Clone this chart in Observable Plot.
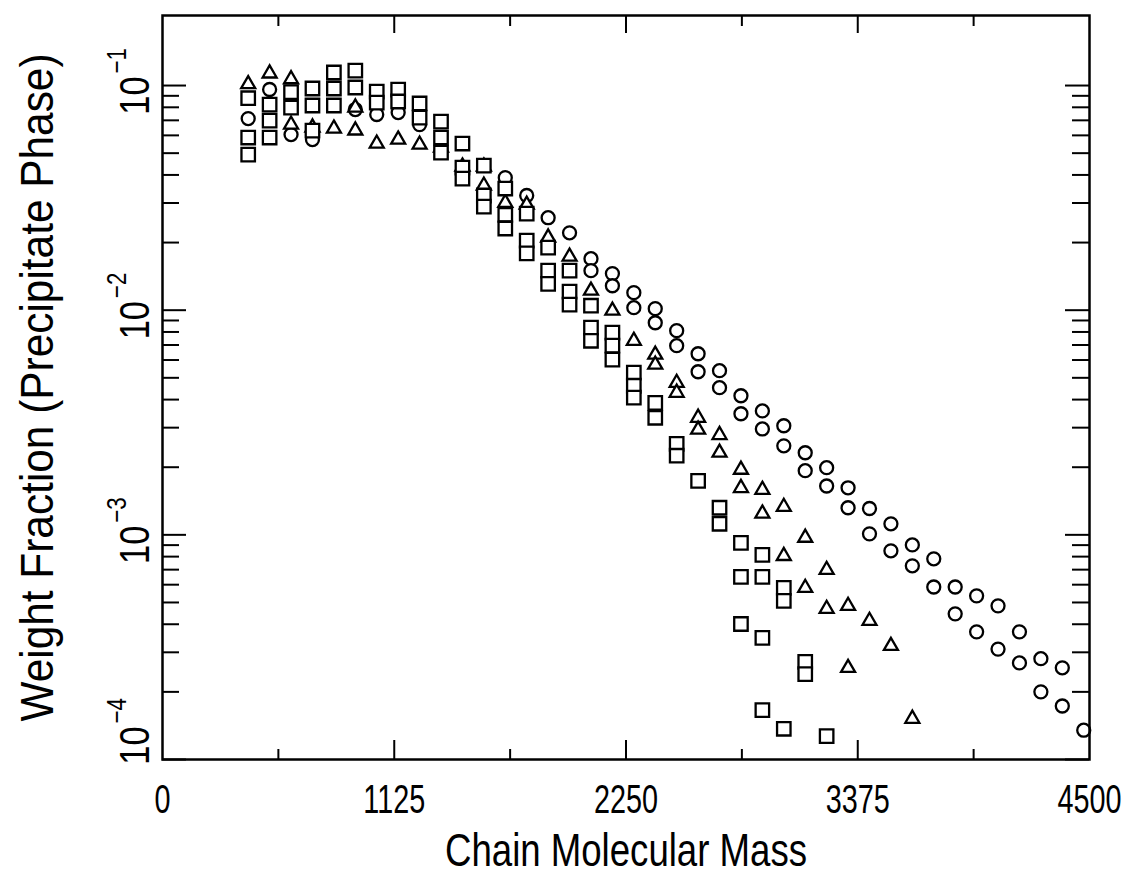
<!DOCTYPE html>
<html>
<head>
<meta charset="utf-8">
<script src="https://cdn.jsdelivr.net/npm/d3@7"></script>
<script src="https://cdn.jsdelivr.net/npm/@observablehq/plot@0.6"></script>
<style>
  html, body { margin: 0; padding: 0; background: #fff; }
  #chart { width: 1135px; height: 882px; }
</style>
</head>
<body>
<div id="chart"></div>
<script>
// ---- data ----
const circleMass = [416, 520, 624, 728, 936, 1040, 1144, 1248, 1664, 1768, 1872, 1976,
  2080, 2080, 2184, 2184, 2288, 2288, 2392, 2392, 2496, 2496, 2600, 2600, 2704, 2704,
  2808, 2808, 2912, 2912, 3016, 3016, 3120, 3120, 3224, 3224, 3328, 3328, 3432, 3432,
  3536, 3536, 3640, 3640, 3744, 3744, 3848, 3848, 3952, 3952, 4056, 4056, 4160, 4160,
  4264, 4264, 4368, 4368, 4472];
const circleFrac = [0.0713, 0.0960, 0.0605, 0.0575, 0.0782, 0.0743, 0.0758, 0.0670, 0.0389, 0.0324, 0.0258, 0.0221,
  0.01695, 0.0150, 0.01455, 0.01285, 0.01197, 0.01026, 0.01016, 0.00879, 0.00811, 0.00695, 0.00640, 0.00532, 0.00538, 0.00452,
  0.00416, 0.00346, 0.00356, 0.00296, 0.00306, 0.00249, 0.00232, 0.00193, 0.00199, 0.00165, 0.00162, 0.00132, 0.00131, 0.00101,
  0.00112, 0.000849, 0.000902, 0.000728, 0.000782, 0.000586, 0.000586, 0.000445, 0.000535, 0.000370, 0.000483, 0.000310, 0.000370, 0.000269,
  0.000281, 0.000200, 0.000256, 0.000173, 0.000135];

const triangleMass = [416, 520, 624, 624, 728, 832, 936, 936, 1040, 1144, 1248, 1352, 1456, 1560, 1560,
  1664, 1768, 1872, 1976, 2080, 2184, 2288, 2392, 2392, 2496, 2496, 2600, 2600, 2704, 2704,
  2808, 2808, 2912, 2912, 3016, 3016, 3120, 3120, 3224, 3224, 3328, 3328, 3432, 3536, 3640];
const triangleFrac = [0.1035, 0.1155, 0.1089, 0.0684, 0.0664, 0.0657, 0.0815, 0.0644, 0.0563, 0.0587, 0.0557, 0.0541, 0.0445, 0.0445, 0.0366,
  0.0307, 0.0301, 0.0215, 0.01767, 0.01247, 0.01016, 0.00746, 0.00647, 0.00584, 0.00485, 0.00438, 0.00339, 0.00300, 0.00284, 0.00237,
  0.00199, 0.00165, 0.00162, 0.00127, 0.00136, 0.000822, 0.000991, 0.000593, 0.000713, 0.000478, 0.000493, 0.000261, 0.000423, 0.000327, 0.000155];

const squareMass = [416, 416, 416, 520, 520, 520, 624, 624, 728, 728, 728, 832, 832, 832, 936, 936,
  1040, 1040, 1144, 1144, 1248, 1248, 1352, 1352, 1352, 1456, 1456, 1456, 1560, 1560, 1560,
  1664, 1664, 1664, 1768, 1768, 1768, 1872, 1872, 1872, 1976, 1976, 1976, 2080, 2080, 2080,
  2184, 2184, 2184, 2288, 2288, 2288, 2392, 2392, 2496, 2496, 2600, 2704, 2704,
  2808, 2808, 2808, 2912, 2912, 2912, 2912, 3016, 3016, 3016, 3120, 3120, 3224];
const squareFrac = [0.0878, 0.0587, 0.0493, 0.0823, 0.0698, 0.0587, 0.0934, 0.0798, 0.0970, 0.0815, 0.0630, 0.1143, 0.0970, 0.0815, 0.1166, 0.0980,
  0.0940, 0.0840, 0.0960, 0.0849, 0.0832, 0.0720, 0.0691, 0.0587, 0.0503, 0.0552, 0.0431, 0.0385, 0.0440, 0.0324, 0.0289,
  0.0348, 0.0266, 0.0231, 0.0269, 0.0204, 0.0179, 0.0190, 0.0150, 0.0131, 0.0150, 0.01209, 0.01058, 0.01047, 0.00836, 0.00731,
  0.00794, 0.00695, 0.00602, 0.00527, 0.00461, 0.00408, 0.00387, 0.00332, 0.00254, 0.00225, 0.00174, 0.00132, 0.00112,
  0.000921, 0.000650, 0.000401, 0.000815, 0.000650, 0.000348, 0.000166, 0.000581, 0.000508, 0.000137, 0.000272, 0.000240, 0.000127];

const xMajorTicks = [1125, 2250, 3375];
const xMinorTicks = [562.5, 1687.5, 2812.5, 3937.5];
const xTickLabels = [0, 1125, 2250, 3375, 4500];
const yMajorTicks = [1e-4, 1e-3, 1e-2, 1e-1];
const yMinorTicks = [2e-4, 3e-4, 4e-4, 5e-4, 6e-4, 7e-4, 8e-4, 9e-4,
  2e-3, 3e-3, 4e-3, 5e-3, 6e-3, 7e-3, 8e-3, 9e-3,
  2e-2, 3e-2, 4e-2, 5e-2, 6e-2, 7e-2, 8e-2, 9e-2];
const yTickLabels = [1e-4, 1e-3, 1e-2, 1e-1];
const yTickExponents = ["\u22124", "\u22123", "\u22122", "\u22121"];
const xTitle = "Chain Molecular Mass";
const yTitle = "Weight Fraction (Precipitate Phase)";

// ---- build tables ----
const circles = circleMass.map((m, i) => ({mass: m, frac: circleFrac[i]}));
const triangles = triangleMass.map((m, i) => ({mass: m, frac: triangleFrac[i]}));
const squares = squareMass.map((m, i) => ({mass: m, frac: squareFrac[i]}));
const yLabels = yTickLabels.map((v, i) => ({v, exp: yTickExponents[i]}));

const W = 1135, H = 882, mL = 162, mR = 46, mT = 15, mB = 123;
const innerW = W - mL - mR, innerH = H - mT - mB;
const font = "'Liberation Sans', Arial, sans-serif";

const chart = Plot.plot({
  width: W, height: H,
  marginLeft: mL, marginRight: mR, marginTop: mT, marginBottom: mB,
  style: {background: "white", color: "black"},
  x: {domain: [0, 4500], axis: null},
  y: {type: "log", domain: [1e-4, 0.205], axis: null},
  marks: [
    // ticks (inward)
    Plot.tickX(xMajorTicks, {x: d => d, insetTop: innerH - 19, stroke: "black", strokeWidth: 2}),
    Plot.tickX(xMinorTicks, {x: d => d, insetTop: innerH - 10, stroke: "black", strokeWidth: 2}),
    Plot.tickX(xMajorTicks, {x: d => d, insetBottom: innerH - 18, stroke: "black", strokeWidth: 2}),
    Plot.tickX(xMinorTicks, {x: d => d, insetBottom: innerH - 11, stroke: "black", strokeWidth: 2}),
    Plot.tickY(yMajorTicks, {y: d => d, insetRight: innerW - 24, stroke: "black", strokeWidth: 2}),
    Plot.tickY(yMinorTicks, {y: d => d, insetRight: innerW - 17, stroke: "black", strokeWidth: 2}),
    Plot.tickY(yMajorTicks, {y: d => d, insetLeft: innerW - 24, stroke: "black", strokeWidth: 2}),
    Plot.tickY(yMinorTicks, {y: d => d, insetLeft: innerW - 17, stroke: "black", strokeWidth: 2}),
    // data
    Plot.dot(circles, {x: "mass", y: "frac", symbol: "circle", r: 6.5, fill: "white", stroke: "black", strokeWidth: 2.3}),
    Plot.dot(triangles, {x: "mass", y: "frac", symbol: "triangle", r: 5.2, dy: 2, fill: "white", stroke: "black", strokeWidth: 2.3, strokeLinejoin: "miter"}),
    Plot.dot(squares, {x: "mass", y: "frac", symbol: "square", r: 7.6, fill: "white", stroke: "black", strokeWidth: 2.3}),
    Plot.frame({stroke: "black", strokeWidth: 2.5}),
    // x tick labels
    Plot.text(xTickLabels, {x: d => d, frameAnchor: "bottom", dy: 41, text: d => String(d), textAnchor: "middle", fontSize: 40, fontFamily: font, lineAnchor: "middle", fill: "black"}),
    // y tick labels (rotated)
    Plot.text(yLabels.filter(d => d.v > 1e-4), {y: "v", frameAnchor: "left", dx: -27, dy: 10, rotate: -90, text: () => "10", textAnchor: "middle", lineAnchor: "middle", fontSize: 43, fontFamily: font, fill: "black"}),
    Plot.text(yLabels.filter(d => d.v > 1e-4), {y: "v", frameAnchor: "left", dx: -45, dy: -12, rotate: -90, text: "exp", textAnchor: "start", lineAnchor: "middle", fontSize: 28, fontFamily: font, fill: "black"}),
    Plot.text(yLabels.filter(d => d.v <= 1e-4), {y: "v", frameAnchor: "left", dx: -27, dy: -14, rotate: -90, text: () => "10", textAnchor: "middle", lineAnchor: "middle", fontSize: 43, fontFamily: font, fill: "black"}),
    Plot.text(yLabels.filter(d => d.v <= 1e-4), {y: "v", frameAnchor: "left", dx: -45, dy: -36, rotate: -90, text: "exp", textAnchor: "start", lineAnchor: "middle", fontSize: 28, fontFamily: font, fill: "black"}),
    // titles
    Plot.text([xTitle], {frameAnchor: "bottom", dy: 92, text: d => d, textAnchor: "middle", fontSize: 46, fontFamily: font, lineAnchor: "middle", fill: "black"}),
    Plot.text([yTitle], {frameAnchor: "left", dx: -124, rotate: -90, text: d => d, textAnchor: "middle", fontSize: 46, fontFamily: font, lineAnchor: "middle", fill: "black"})
  ]
});
document.getElementById("chart").appendChild(chart);

// condensed lettering like the original: squeeze glyphs along the text direction
d3.select(chart).selectAll("text").each(function() {
  const t = this.textContent;
  const len = this.getComputedTextLength();
  let target;
  if (t === xTitle) target = 362;
  else if (t === yTitle) target = 668;
  else if (/^\d+$/.test(t) && t !== "10") target = len * 0.72;
  else target = len * 0.8;
  this.setAttribute("textLength", target);
  this.setAttribute("lengthAdjust", "spacingAndGlyphs");
});
</script>
</body>
</html>
